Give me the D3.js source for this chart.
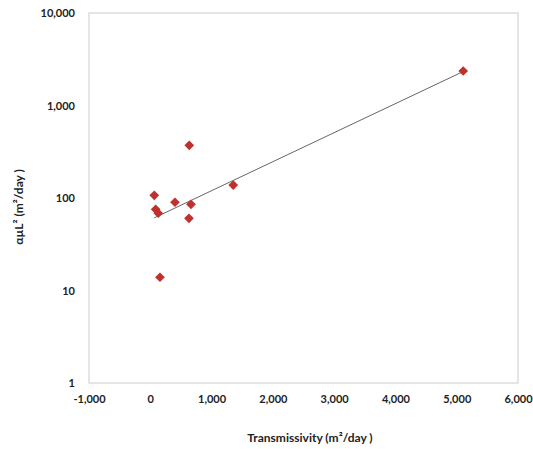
<!DOCTYPE html>
<html>
  <head>
    <meta charset="utf-8">
    <title>Transmissivity</title>
    <script src="https://d3js.org/d3.v7.min.js"></script>
    <style>
      body { margin: 0; background: #fff; }
      text { font-family: Lato, "Open Sans", sans-serif; font-weight: bold; fill: #222; }
    </style>
  </head>
  <body>
    <script>
      // data
      var transmissivity = [636, 65, 403, 664, 1354, 88, 131, 631, 158, 5106];
      var alphaMuL2 = [371, 107, 90, 85.5, 138, 75.5, 68.4, 60.3, 13.9, 2360];
      var trendX = [65, 5106];
      var trendY = [61, 2330];
      var xTicks = [-1000, 0, 1000, 2000, 3000, 4000, 5000, 6000];
      var yTicks = [1, 10, 100, 1000, 10000];

      var width = 533, height = 449;
      var margin = {left: 89, right: 15, top: 13, bottom: 66};

      var svg = d3.select("body").append("svg").attr("width", width).attr("height", height);

      var xScale = d3.scaleLinear()
        .domain([-1000, 6000])
        .range([margin.left, width - margin.right]);

      var yScale = d3.scaleLog()
        .domain([1, 10000])
        .range([height - margin.bottom, margin.top]);

      // plain hyphen for negatives, like the original
      var fmt = d3.formatLocale({decimal: ".", thousands: ",", grouping: [3], currency: ["", ""], minus: "-"}).format(",");

      // plot frame
      svg.append("rect")
        .attr("x", margin.left).attr("y", margin.top)
        .attr("width", width - margin.left - margin.right)
        .attr("height", height - margin.top - margin.bottom)
        .attr("fill", "none").attr("stroke", "#d4d4d4").attr("stroke-width", 1.2);

      var axisX = d3.axisBottom(xScale).tickValues(xTicks).tickFormat(fmt).tickSize(0).tickPadding(12);
      var gx = svg.append("g")
        .attr("transform", "translate(0," + (height - margin.bottom) + ")")
        .call(axisX);
      gx.select(".domain").remove();
      gx.selectAll("text").style("font-size", "11px").style("font-family", "Lato, sans-serif");

      var axisY = d3.axisLeft(yScale).tickValues(yTicks).tickFormat(fmt).tickSize(0).tickPadding(14);
      var gy = svg.append("g")
        .attr("transform", "translate(" + margin.left + ",0)")
        .call(axisY);
      gy.select(".domain").remove();
      gy.selectAll("text").style("font-size", "11px").style("font-family", "Lato, sans-serif");

      // trend line
      svg.append("line")
        .attr("x1", xScale(trendX[0])).attr("y1", yScale(trendY[0]))
        .attr("x2", xScale(trendX[1])).attr("y2", yScale(trendY[1]))
        .attr("stroke", "#666").attr("stroke-width", 1);

      // points
      svg.selectAll("path.pt")
        .data(transmissivity)
        .enter()
        .append("path")
        .attr("class", "pt")
        .attr("d", d3.symbol().type(d3.symbolDiamond2).size(60))
        .attr("transform", function(d, i) {
          return "translate(" + xScale(d) + "," + yScale(alphaMuL2[i]) + ")";
        })
        .attr("fill", "#c0302f");

      // axis titles
      svg.append("text")
        .attr("x", 310).attr("y", 442)
        .attr("text-anchor", "middle")
        .style("font-size", "12px")
        .text("Transmissivity (m\u00B2/day )");

      svg.append("text")
        .attr("transform", "translate(23,207) rotate(-90)")
        .attr("text-anchor", "middle")
        .style("font-size", "12px")
        .text("\u03B1\u00B5L\u00B2 (m\u00B2/day )");
    </script>
  </body>
</html>
